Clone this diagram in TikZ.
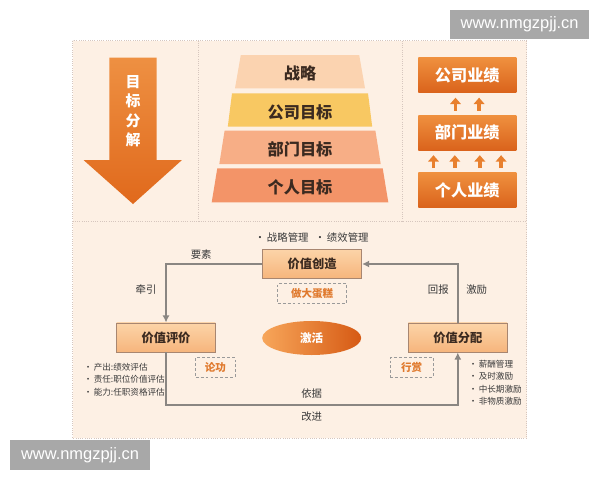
\documentclass[tikz,border=0pt]{standalone}
\usepackage{fontspec}
\setmainfont{Liberation Sans}
\newfontfamily\cjk{Noto Sans CJK SC}
\usetikzlibrary{arrows.meta,calc,shapes.geometric}
\definecolor{bg}{HTML}{FDF0E4}
\definecolor{bord}{HTML}{D6C6BE}
\definecolor{tdark}{HTML}{3B2A20}
\definecolor{ltext}{HTML}{3A3A3A}
\definecolor{or1}{HTML}{EF903E}
\definecolor{or2}{HTML}{DA631C}
\definecolor{ar1}{HTML}{EE9042}
\definecolor{ar2}{HTML}{E0691C}
\definecolor{arr}{HTML}{E8802E}
\definecolor{tp1}{HTML}{FBD3B0}
\definecolor{tp2}{HTML}{F8C862}
\definecolor{tp3}{HTML}{F7AE86}
\definecolor{tp4}{HTML}{F39468}
\definecolor{vb1}{HTML}{FCD4A8}
\definecolor{vb2}{HTML}{F6B57C}
\definecolor{vbd}{HTML}{A88670}
\definecolor{dgray}{HTML}{9A9A9A}
\definecolor{dor}{HTML}{E07A2E}
\definecolor{cgray}{HTML}{8A8682}
\definecolor{el1}{HTML}{F7A65A}
\definecolor{el2}{HTML}{D65A14}
\definecolor{wmg}{HTML}{A8A8A8}
\begin{document}
\begin{tikzpicture}[x=0.025cm,y=-0.025cm,
 trap/.style={font={\cjk\bfseries\fontsize{11.5}{13}\selectfont}, text=tdark, inner sep=0pt},
 obox/.style={top color=or1, bottom color=or2, minimum width=2.45cm, minimum height=0.8625cm, inner sep=0pt, text=white, font={\cjk\bfseries\fontsize{11.5}{13}\selectfont}},
 uparr/.style={draw=arr, line width=2.8pt, -{Triangle[width=7.5pt,length=4.5pt]}, shorten >=3.5pt, shorten <=3.2pt},
 vbox/.style={top color=vb1, bottom color=vb2, draw=vbd, line width=0.7pt, minimum width=2.47cm, minimum height=0.725cm, inner sep=0pt, text=tdark, font={\cjk\bfseries\fontsize{8.7}{10}\selectfont}},
 dbox/.style={draw=dgray, dash pattern=on 2pt off 1.5pt, line width=0.6pt, minimum height=0.4875cm, inner sep=0pt, text=dor, font={\cjk\bfseries\fontsize{7.5}{9}\selectfont}},
 lbl/.style={font={\cjk\fontsize{7.4}{9}\selectfont}, text=ltext, inner sep=0pt},
 lst/.style={font={\cjk\fontsize{6.1}{8.9}\selectfont}, text=ltext, inner sep=0pt, align=left, anchor=west},
 conn/.style={draw=cgray, line width=1.4pt},
 tipc/.style={-{Latex[length=5pt,width=5pt]}},
 wm/.style={fill=wmg, text=white, font=\fontsize{11.7}{13}\selectfont, inner sep=0pt},
]
\useasboundingbox[fill=white] (0,0) rectangle (600,480);
% panel
\fill[bg] (72.7,40.7) rectangle (526.7,438.3);
\draw[bord, densely dotted, line width=0.6pt] (72.7,40.7) rectangle (526.7,438.3);
\draw[bord, densely dotted, line width=0.6pt] (72.7,221) -- (526.7,221);
\draw[bord, densely dotted, line width=0.6pt] (198.3,40.7) -- (198.3,221);
\draw[bord, densely dotted, line width=0.6pt] (402,40.7) -- (402,221);
% big arrow
\shade[top color=ar1, bottom color=ar2] (109.3,57.7) -- (156.7,57.7) -- (156.7,160) -- (182,160) -- (133,204) -- (83.5,160) -- (109.3,160) -- cycle;
\node[align=center, text=white, inner sep=0pt, font={\cjk\bfseries\fontsize{10.6}{13.8}\selectfont}] (mbfj) at (133,111.4) {目\\标\\分\\解};
% trapezoids
\fill[tp1] (240.8,55) -- (359.2,55) -- (365,88.3) -- (235,88.3) -- cycle;
\fill[tp2] (232,93.3) -- (368,93.3) -- (372.2,126.7) -- (227.8,126.7) -- cycle;
\fill[tp3] (224.6,130.7) -- (375.4,130.7) -- (380.7,164) -- (219.3,164) -- cycle;
\fill[tp4] (217.3,168.3) -- (382.7,168.3) -- (388.3,202.3) -- (211.7,202.3) -- cycle;
\node[trap] (t1) at (300,73.5) {战略};
\node[trap] (t2) at (300,112) {公司目标};
\node[trap] (t3) at (300,149.5) {部门目标};
\node[trap] (t4) at (300,187) {个人目标};
% right boxes
\node[obox] (gs) at (467.3,75.25) {公司业绩};
\node[obox] (bm) at (467.3,132.75) {部门业绩};
\node[obox] (gr) at (467.3,190.2) {个人业绩};
\draw[uparr] ([xshift=-0.295cm]bm.north) -- ([xshift=-0.295cm]gs.south);
\draw[uparr] ([xshift=0.295cm]bm.north) -- ([xshift=0.295cm]gs.south);
\draw[uparr] ([xshift=-0.845cm]gr.north) -- ([xshift=-0.845cm]bm.south);
\draw[uparr] ([xshift=-0.3125cm]gr.north) -- ([xshift=-0.3125cm]bm.south);
\draw[uparr] ([xshift=0.3125cm]gr.north) -- ([xshift=0.3125cm]bm.south);
\draw[uparr] ([xshift=0.845cm]gr.north) -- ([xshift=0.845cm]bm.south);
% bottom section
\node[lbl] (hdr) at (311.7,237.7) {·\,战略管理\hspace{0.6em}·\,绩效管理};
\node[vbox] (cz) at (312.2,264) {价值创造};
\node[vbox] (pj) at (166,337.5) {价值评价};
\node[vbox] (fp) at (457.8,337.5) {价值分配};
\node[ellipse, left color=el1, right color=el2, minimum width=2.475cm, minimum height=0.85cm, inner sep=0pt, text=white, font={\cjk\bfseries\fontsize{8.2}{10}\selectfont}] (jh) at (311.7,338) {激活};
\node[dbox, minimum width=1.715cm] (dd) at (312.2,293.5) {做大蛋糕};
\node[dbox, minimum width=0.98cm] (lg) at (215.4,367.5) {论功};
\node[dbox, minimum width=1.075cm] (xs) at (411.6,367.5) {行赏};
% connectors
\draw[conn, tipc] (cz.west) -| (pj.north);
\draw[conn, tipc] (fp.north) |- (cz.east);
\draw[conn, tipc] (pj.south) -- ++(0,52.8) -| (fp.south);
% labels
\node[lbl] (ys) at (201.2,255) {要素};
\node[lbl] (qy) at (146,290) {牵引};
\node[lbl] (hb) at (438.3,289.5) {回报};
\node[lbl] (jl) at (476.7,289.5) {激励};
\node[lbl] (yj) at (311.7,393.5) {依据};
\node[lbl] (gj) at (311.7,416.5) {改进};
\node[lst] (llist) at (83.5,379.5) {·\,产出:绩效评估\\·\,责任:职位价值评估\\·\,能力:任职资格评估};
\node[lst] (rlist) at (468.5,382.7) {·\,薪酬管理\\·\,及时激励\\·\,中长期激励\\·\,非物质激励};
% watermarks
\node[wm, minimum width=3.4825cm, minimum height=0.7325cm] (wm1) at (519.65,24.65) {www.nmgzpjj.cn};
\node[wm, minimum width=3.5cm, minimum height=0.75cm] (wm2) at (80,455) {www.nmgzpjj.cn};
\end{tikzpicture}
\end{document}
